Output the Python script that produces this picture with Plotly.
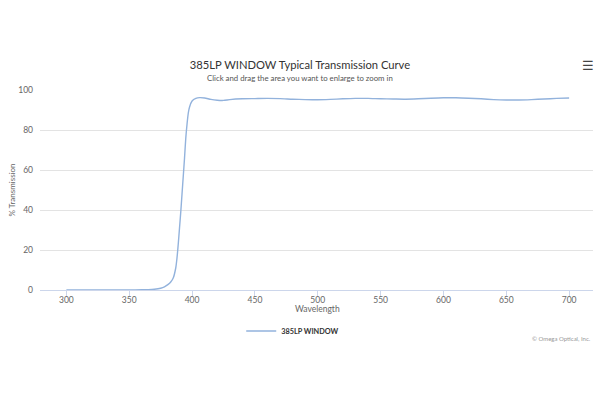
import plotly.graph_objects as go

# transmission curve
wavelength = [300, 310, 320, 330, 340, 350, 360, 365, 370, 375, 378, 381, 383, 385,
              387, 388, 389, 390, 391, 392, 393, 394, 395, 396, 397, 398, 400, 403,
              406, 410, 415, 420, 425, 430, 440, 450, 460, 470, 480, 490, 500, 510,
              520, 530, 540, 550, 560, 570, 580, 590, 600, 610, 620, 630, 640, 650,
              660, 670, 680, 690, 700]
transmission = [0.0, 0.0, 0.0, 0.0, 0.0, 0.0, 0.1, 0.2, 0.4, 0.9, 1.6, 2.8, 4.0, 6.0,
                11.0, 16.0, 23.0, 31.0, 39.0, 48.0, 57.0, 66.0, 76.0, 83.0, 88.5, 91.5, 94.5, 95.8,
                96.2, 96.0, 95.3, 94.9, 94.8, 95.2, 95.6, 95.7, 95.8, 95.7, 95.4, 95.2, 95.1, 95.3,
                95.6, 95.8, 95.8, 95.6, 95.5, 95.4, 95.6, 95.9, 96.1, 96.1, 95.9, 95.6, 95.2, 95.0,
                95.0, 95.2, 95.5, 95.8, 96.0]
x_ticks = [300, 350, 400, 450, 500, 550, 600, 650, 700]
y_ticks = [0, 20, 40, 60, 80, 100]

font = "Lato"

fig = go.Figure(go.Scatter(
    x=wavelength, y=transmission, mode="lines", name="385LP WINDOW",
    line=dict(color="#92b2dc", width=1.4, shape="spline", smoothing=0.6),
))

fig.update_layout(
    width=600, height=400,
    margin=dict(l=40, r=7, t=90, b=110),
    paper_bgcolor="white", plot_bgcolor="white",
    font=dict(family=font, size=8.5, color="#666666"),
    title=dict(text="385LP WINDOW Typical Transmission Curve", x=0.5, xanchor="center",
               y=1 - 65 / 400, yanchor="middle",
               font=dict(family=font, size=11.2, color="#333333")),
    showlegend=True,
    legend=dict(orientation="h", x=0.457, xanchor="center", y=-41 / 200, yanchor="middle",
                font=dict(family=font, size=7.3, color="#333333", weight="bold"),
                itemwidth=30),
    annotations=[
        dict(text="Click and drag the area you want to enlarge to zoom in",
             xref="paper", yref="paper", x=(300 - 40) / 553, y=(290 - 78) / 200,
             xanchor="center", yanchor="middle", showarrow=False,
             font=dict(family=font, size=7.8, color="#555555")),
        dict(text="Wavelength", xref="paper", yref="paper",
             x=(317 - 40) / 553, y=(290 - 309) / 200, xanchor="center", yanchor="middle",
             showarrow=False, font=dict(family=font, size=8.5, color="#666666")),
        dict(text="© Omega Optical, Inc.", xref="paper", yref="paper",
             x=1, y=(290 - 338) / 200, xanchor="right", yanchor="middle", showarrow=False,
             font=dict(family=font, size=6, color="#999999")),
        dict(text="☰", xref="paper", yref="paper", x=(588 - 40) / 553, y=(290 - 66) / 200,
             xanchor="center", yanchor="middle", showarrow=False,
             font=dict(family="DejaVu Sans", size=13, color="#444444")),
    ],
)

fig.update_xaxes(
    range=[279, 719], tickvals=x_ticks, showgrid=False, zeroline=False,
    showline=True, linecolor="#ccd6eb", linewidth=1,
    ticks="outside", ticklen=5, tickcolor="#ccd6eb", ticklabelstandoff=-3,
)
fig.update_yaxes(
    range=[0, 100], tickvals=y_ticks, showgrid=True, gridcolor="#e3e3e3",
    zeroline=False, showline=False, ticks="", ticklabelstandoff=6,
    title=dict(text="% Transmission", standoff=1, font=dict(size=8, color="#666666")),
)

fig.write_html("out.html", config={"displayModeBar": False},
               post_script="document.body.style.margin='0';")
